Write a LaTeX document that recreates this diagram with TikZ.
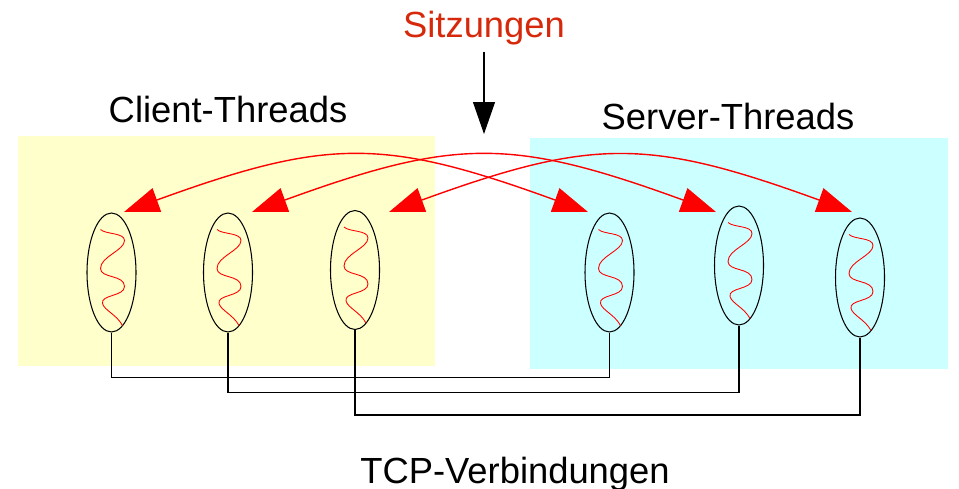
\documentclass[tikz,border=0pt]{standalone}
\usepackage{fontspec}
\setmainfont{Liberation Sans}
\usetikzlibrary{shapes.geometric, arrows.meta, positioning}
\definecolor{clientgelb}{RGB}{255,255,204}
\definecolor{servercyan}{RGB}{204,255,255}
\definecolor{sitzrot}{RGB}{214,40,10}

\begin{document}
\begin{tikzpicture}[
    x=0.02cm, y=-0.02cm,
    every node/.style={font=\fontsize{20.7}{24}\selectfont},
    thread/.style={draw=black, ellipse, minimum width=0.98cm, minimum height=2.38cm, inner sep=0pt, line width=0.6pt},
    sitzung/.style={red, line width=0.8pt, {Triangle[length=0.7cm, width=0.5cm]}-{Triangle[length=0.7cm, width=0.5cm]}},
    pfeil/.style={black, line width=0.6pt, -{Triangle[length=0.64cm, width=0.44cm]}},
    tcp/.style={black, line width=0.6pt},
    faden/.pic={\draw[red, line width=0.5pt] (-11,-43) .. controls (-6,-38) and (13,-40) .. (13,-32) .. controls (13,-22) and (-11,-16) .. (-11,-4) .. controls (-11,6) and (13,2) .. (13,14) .. controls (13,24) and (-11,22) .. (-9,31) .. controls (-7,38) and (5,42) .. (11,53);}
]
\useasboundingbox (0,0) rectangle (959,489);
\fill [clientgelb] (18,136) rectangle (435,366);
\fill [servercyan] (530,138) rectangle (948,369);

\node (client) [anchor=base] at (228,123) {Client-Threads};
\node (server) [anchor=base] at (728,130) {Server-Threads};
\node (tcpverb) [anchor=base] at (515,483) {TCP-Verbindungen};
\node (sitz) [anchor=base, text=sitzrot] at (484,38) {Sitzungen};
\coordinate (sitzziel) at (484,134);

\node (c1) [thread] at (111.5,272.5) {};
\node (c2) [thread] at (228,272.5) {};
\node (c3) [thread] at (355,270) {};
\node (s1) [thread] at (609.5,272.5) {};
\node (s2) [thread] at (739,265.5) {};
\node (s3) [thread] at (860,277.5) {};
\foreach \t in {c1,c2,c3,s1,s2,s3}
    \pic at (\t) {faden};

\coordinate (c1t) at (124,212);
\coordinate (c2t) at (252,212);
\coordinate (c3t) at (389,212);
\coordinate (s1t) at (588,212);
\coordinate (s2t) at (716,212);
\coordinate (s3t) at (852,212);

\draw [pfeil] (sitz) -- (sitzziel);

\draw [sitzung] (c1t) to[bend left=20, looseness=1.2] (s1t);
\draw [sitzung] (c2t) to[bend left=20, looseness=1.2] (s2t);
\draw [sitzung] (c3t) to[bend left=20, looseness=1.2] (s3t);

\draw [tcp] (c1.south) -- ++(0,45) -| (s1.south);
\draw [tcp] (c2.south) -- ++(0,60) -| (s2.south);
\draw [tcp] (c3.south) -- ++(0,85) -| (s3.south);

\end{tikzpicture}
\end{document}
